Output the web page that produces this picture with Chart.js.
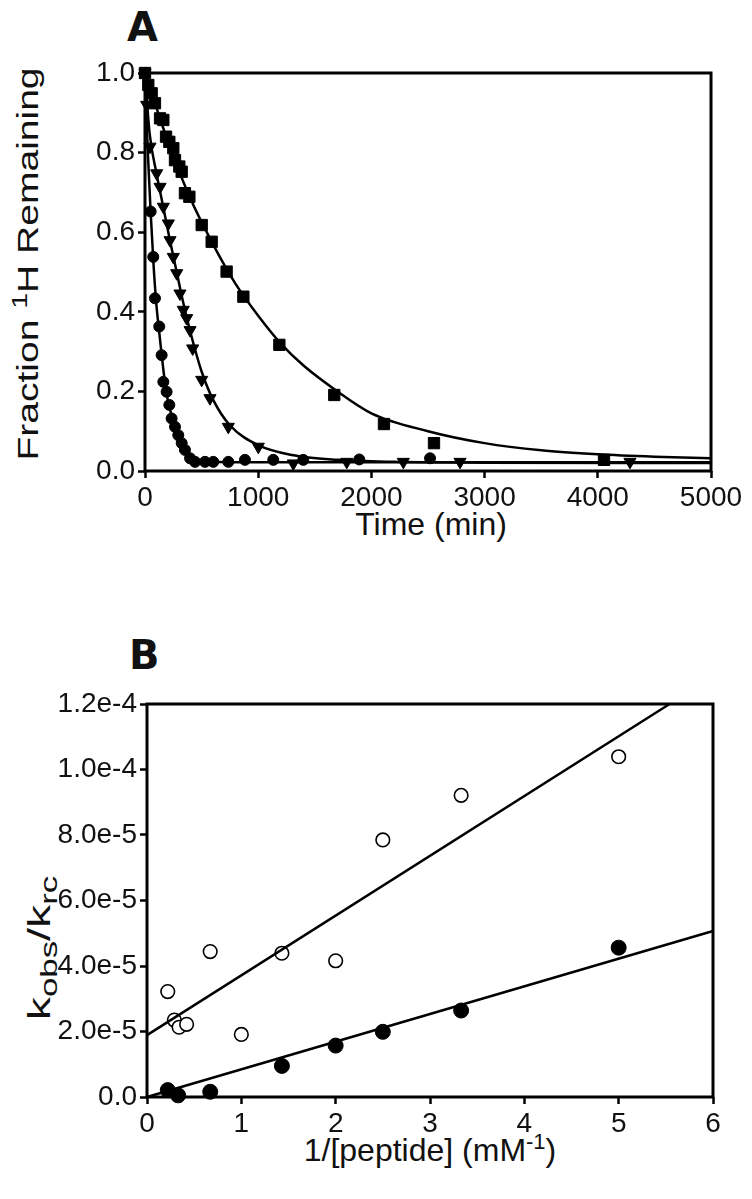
<!DOCTYPE html>
<html>
<head>
<meta charset="utf-8">
<script src="https://cdn.jsdelivr.net/npm/chart.js@4.4.1/dist/chart.umd.min.js"></script>
<style>
  body { margin: 0; background: #fff; width: 752px; height: 1199px; position: relative; overflow: hidden;
         font-family: "Liberation Sans", Arial, sans-serif; color: #111; }
  canvas { position: absolute; left: 0; }
  .lbl { position: absolute; white-space: nowrap; font-size: 32px; transform: translate(-50%, -50%); }
  .panel { position: absolute; font-size: 40px; font-weight: bold; font-family: "DejaVu Sans", sans-serif; }
  sup { font-size: 22px; }
  sub { font-size: 24px; }
</style>
</head>
<body>
<div class="panel" style="left:127px; top:4px;">A</div>
<div class="panel" style="left:129px; top:632px;">B</div>
<div class="lbl" style="left:26px; top:264px; font-size:30px; transform: translate(-50%, -50%) rotate(-90deg) scaleX(1.3);">Fraction <sup>1</sup>H Remaining</div>
<div class="lbl" style="left:431px; top:524px;">Time (min)</div>
<div class="lbl" style="left:42px; top:948px; transform: translate(-50%, -50%) rotate(-90deg) scaleX(1.45);">k<sub>obs</sub>/k<sub>rc</sub></div>
<div class="lbl" style="left:430px; top:1149px;">1/[peptide] (mM<sup>-1</sup>)</div>
<canvas id="chartA" width="752" height="600" style="top:0"></canvas>
<canvas id="chartB" width="752" height="599" style="top:600px"></canvas>
<script>
// panel A: exchange curves
const sqTime = [0, 29, 59, 88, 133, 162, 186, 215, 250, 265, 303, 324, 353, 392, 501, 589, 721, 869, 1187, 1672, 2111, 2553, 4055]
const sqFrac = [1.0, 0.97, 0.949, 0.924, 0.886, 0.882, 0.84, 0.827, 0.811, 0.781, 0.765, 0.752, 0.698, 0.689, 0.618, 0.576, 0.501, 0.438, 0.317, 0.191, 0.118, 0.07, 0.028]
const triTime = [0, 15, 44, 103, 133, 162, 206, 221, 250, 280, 309, 338, 368, 398, 421, 501, 574, 736, 1001, 1310, 1782, 2282, 2783, 4284]
const triFrac = [1.0, 0.92, 0.815, 0.748, 0.714, 0.664, 0.622, 0.58, 0.538, 0.497, 0.446, 0.405, 0.384, 0.354, 0.308, 0.229, 0.183, 0.111, 0.061, 0.019, 0.023, 0.023, 0.023, 0.023]
const cirTime = [0, 50, 73, 88, 126, 147, 162, 191, 215, 235, 265, 294, 324, 353, 398, 442, 530, 603, 736, 883, 1133, 1398, 1893, 2518]
const cirFrac = [1.0, 0.652, 0.538, 0.434, 0.363, 0.291, 0.224, 0.199, 0.166, 0.132, 0.111, 0.09, 0.07, 0.053, 0.032, 0.023, 0.023, 0.023, 0.023, 0.028, 0.028, 0.028, 0.029, 0.032]

// fitted curves
const sqFitTime = [0, 200, 400, 600, 800, 1000, 1200, 1400, 1700, 2000, 2500, 3000, 3500, 4000, 4500, 5000]
const sqFitFrac = [1.0, 0.83, 0.685, 0.57, 0.47, 0.39, 0.32, 0.265, 0.2, 0.145, 0.1, 0.07, 0.052, 0.042, 0.036, 0.032]
const triFitTime = [0, 40, 100, 160, 220, 280, 340, 400, 500, 600, 750, 1000, 1300, 1700, 2200, 3000, 5000]
const triFitFrac = [1.0, 0.85, 0.75, 0.665, 0.58, 0.5, 0.42, 0.35, 0.25, 0.18, 0.115, 0.065, 0.04, 0.028, 0.023, 0.021, 0.02]
const cirFitTime = [0, 25, 50, 75, 100, 125, 150, 175, 200, 225, 250, 300, 350, 400, 450, 550, 800, 1500, 5000]
const cirFitFrac = [1.0, 0.8, 0.65, 0.52, 0.42, 0.35, 0.285, 0.225, 0.18, 0.15, 0.12, 0.085, 0.058, 0.04, 0.03, 0.024, 0.022, 0.022, 0.022]

const timeTicks = [0, 1000, 2000, 3000, 4000, 5000]
const fracTicks = [0, 0.2, 0.4, 0.6, 0.8, 1.0]

// panel B: kobs/krc vs 1/[peptide]
const openX = [0.22, 0.29, 0.34, 0.42, 0.67, 1.0, 1.43, 2.0, 2.5, 3.33, 5.0]
const openY = [3.22e-5, 2.35e-5, 2.13e-5, 2.22e-5, 4.44e-5, 1.91e-5, 4.39e-5, 4.16e-5, 7.85e-5, 9.21e-5, 1.039e-4]
const filledX = [0.22, 0.33, 0.67, 1.43, 2.0, 2.5, 3.33, 5.0]
const filledY = [2.1e-6, 0.5e-6, 1.6e-6, 9.5e-6, 1.57e-5, 1.99e-5, 2.64e-5, 4.56e-5]
const openFitX = [0, 5.54]
const openFitY = [1.89e-5, 1.2e-4]
const filledFitX = [0, 6]
const filledFitY = [0, 5.07e-5]

const kTicks = [0, 2e-5, 4e-5, 6e-5, 8e-5, 1e-4, 1.2e-4]
const invTicks = [0, 1, 2, 3, 4, 5, 6]

const pts = (xs, ys) => xs.map((x, i) => ({x: x, y: ys[i]}))

const framePlugin = {
  id: 'frame',
  afterDraw(chart) {
    const {ctx, chartArea: a} = chart
    ctx.save()
    ctx.strokeStyle = '#000'
    ctx.lineWidth = 3
    ctx.strokeRect(a.left, a.top, a.right - a.left, a.bottom - a.top)
    ctx.restore()
  }
}

function axis(min, max, tickVals, fmt, fit) {
  return {
    type: 'linear', min: min, max: max,
    afterBuildTicks: s => { s.ticks = tickVals.map(v => ({value: v})) },
    afterFit: fit,
    border: {display: false},
    grid: {drawOnChartArea: false, drawTicks: true, tickLength: 7, tickWidth: 2.5, tickColor: '#000'},
    ticks: {color: '#111', font: {family: 'Liberation Sans', size: 28}, padding: 3, callback: fmt, maxRotation: 0}
  }
}

const fitLine = (data) => ({type: 'line', data: data, borderColor: '#000', borderWidth: 2.5,
  pointRadius: 0, fill: false, cubicInterpolationMode: 'monotone', clip: false})
const marks = (data, style, r, extra) => Object.assign({type: 'scatter', data: data, pointStyle: style,
  pointRadius: r, backgroundColor: '#000', borderColor: '#000', borderWidth: 1, clip: false}, extra || {})

new Chart(document.getElementById('chartA'), {
  data: {
    datasets: [
      fitLine(pts(sqFitTime, sqFitFrac)),
      fitLine(pts(triFitTime, triFitFrac)),
      fitLine(pts(cirFitTime, cirFitFrac)),
      marks(pts(sqTime, sqFrac), 'rect', 8),
      marks(pts(triTime, triFrac), 'triangle', 7, {rotation: 180}),
      marks(pts(cirTime, cirFrac), 'circle', 5.5)
    ]
  },
  options: {
    responsive: false, animation: false, devicePixelRatio: 1,
    layout: {padding: {left: 0, right: 41, top: 73, bottom: 0}},
    plugins: {legend: {display: false}, tooltip: {enabled: false}},
    scales: {
      x: axis(0, 5000, timeTicks, v => String(v), s => { s.height = 129 }),
      y: axis(0, 1.0, fracTicks, v => v.toFixed(1), s => { s.width = 145 })
    }
  },
  plugins: [framePlugin]
})

new Chart(document.getElementById('chartB'), {
  data: {
    datasets: [
      fitLine(pts(openFitX, openFitY)),
      fitLine(pts(filledFitX, filledFitY)),
      marks(pts(openX, openY), 'circle', 6.8, {backgroundColor: '#fff', borderWidth: 1.6}),
      marks(pts(filledX, filledY), 'circle', 7.5)
    ]
  },
  options: {
    responsive: false, animation: false, devicePixelRatio: 1,
    layout: {padding: {left: 0, right: 39, top: 104, bottom: 0}},
    plugins: {legend: {display: false}, tooltip: {enabled: false}},
    scales: {
      x: axis(0, 6, invTicks, v => String(v), s => { s.height = 102 }),
      y: axis(0, 1.2e-4, kTicks, v => v === 0 ? '0.0' : v.toExponential(1), s => { s.width = 147 })
    }
  },
  plugins: [framePlugin]
})
</script>
</body>
</html>
